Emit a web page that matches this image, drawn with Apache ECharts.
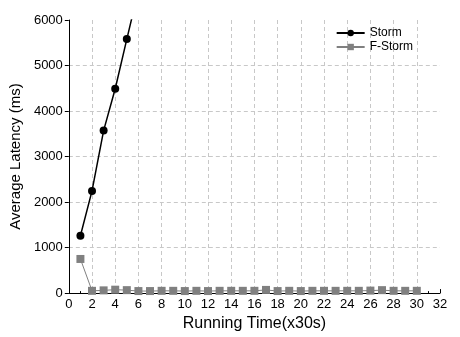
<!DOCTYPE html>
<html>
<head>
<meta charset="utf-8">
<script src="https://cdn.jsdelivr.net/npm/echarts@6/dist/echarts.min.js"></script>
<style>
  html, body { margin: 0; padding: 0; background: #fff; }
  #chart { width: 460px; height: 337px; }
</style>
</head>
<body>
<div id="chart"></div>
<script>
// Running time steps (x30s)
const stormX = [1, 2, 3, 4, 5, 6]
const stormY = [1260, 2245, 3570, 4490, 5580, 6650]

const fstormX = [1, 2, 3, 4, 5, 6, 7, 8, 9, 10, 11, 12, 13, 14, 15,
    16, 17, 18, 19, 20, 21, 22, 23, 24, 25, 26, 27, 28, 29, 30]
const fstormY = [750, 50, 60, 75, 65, 45, 45, 50, 50, 45, 50, 45, 50, 50, 50,
    50, 70, 45, 50, 45, 50, 50, 50, 50, 50, 55, 65, 50, 50, 50]

const pairs = (xs, ys) => xs.map((x, i) => [x, ys[i]])

const font = 'Liberation Sans, Arial, sans-serif'
const dashed = { show: true, showMaxLine: false, showMinLine: false,
    lineStyle: { color: '#c8c8c8', type: [4, 3], width: 1 } }

const chart = echarts.init(document.getElementById('chart'), null, { renderer: 'canvas' })

chart.setOption({
    animation: false,
    textStyle: { fontFamily: font },
    grid: { left: 67, right: 20, top: 20, bottom: 41 },
    legend: {
        right: 42, top: 22, orient: 'vertical', itemGap: 2,
        itemWidth: 28, itemHeight: 8,
        textStyle: { fontSize: 12, color: '#000', fontFamily: font },
        data: ['Storm', 'F-Storm'],
    },
    xAxis: {
        type: 'value', min: 0, max: 32, interval: 2,
        name: 'Running Time(x30s)', nameLocation: 'middle', nameGap: 20,
        nameTextStyle: { fontSize: 16, color: '#000', fontFamily: font },
        axisLine: { onZero: false, lineStyle: { color: '#000', width: 1 } },
        axisTick: { inside: true, length: 4, lineStyle: { color: '#000' } },
        minorTick: { show: true, splitNumber: 2, length: 2, lineStyle: { color: '#000' } },
        axisLabel: { fontSize: 13, color: '#000', margin: 5, fontFamily: font },
        splitLine: dashed,
    },
    yAxis: {
        type: 'value', min: 0, max: 6000, interval: 1000,
        name: 'Average Latency (ms)', nameLocation: 'middle', nameGap: 40,
        nameTextStyle: { fontSize: 15, color: '#000', fontFamily: font },
        axisLine: { show: true, lineStyle: { color: '#000', width: 1 } },
        axisTick: { show: true, length: 4, lineStyle: { color: '#000' } },
        axisLabel: { fontSize: 13, color: '#000', margin: 6, fontFamily: font,
            formatter: v => String(v) },
        splitLine: dashed,
    },
    series: [
        {
            name: 'Storm', type: 'line', data: pairs(stormX, stormY),
            symbol: 'circle', symbolSize: 8, clip: true,
            itemStyle: { color: '#000' },
            lineStyle: { color: '#000', width: 1.5 },
        },
        {
            name: 'F-Storm', type: 'line', data: pairs(fstormX, fstormY),
            symbol: 'rect', symbolSize: 8,
            itemStyle: { color: '#808080' },
            lineStyle: { color: '#808080', width: 1 },
        },
    ],
})
</script>
</body>
</html>
